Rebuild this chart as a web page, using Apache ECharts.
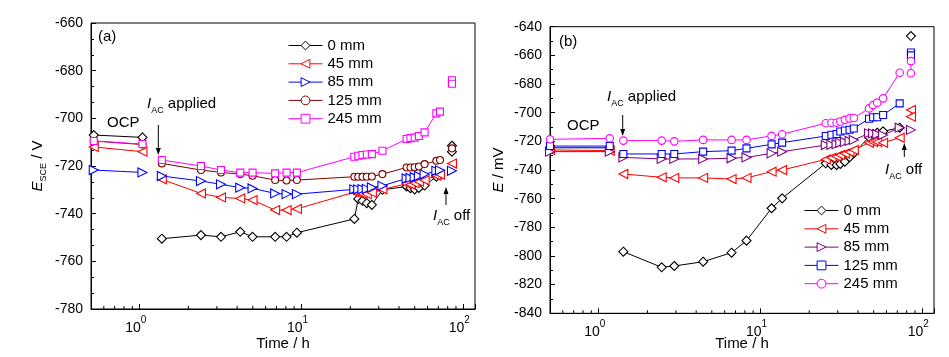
<!DOCTYPE html>
<html>
<head>
<meta charset="utf-8">
<script src="https://cdn.jsdelivr.net/npm/echarts@6/dist/echarts.min.js"></script>
<style>
html,body{margin:0;padding:0;background:#fff;}
#c{width:949px;height:357px;}
</style>
</head>
<body>
<div id="c"></div>
<script>
// ---------- Panel (a): E_SCE / V ----------
const seriesNames = ['0 mm', '45 mm', '85 mm', '125 mm', '245 mm'];
const ocpTimeA = [0.52, 1.04];
const timeA = [1.37, 2.39, 3.18, 4.18, 4.98, 6.87, 8.08, 9.36, 21.2, 22.4, 23.8, 25.3, 27.2, 31.6, 44.6, 47.1, 50.0, 53.1, 57.6, 68.1, 71.7];
const offTimeA = [85, 85];
const ocpA0 = [-707, -708];
const ocpA45 = [-712, -714];
const ocpA85 = [-721.7, -722.7];
const ocpA125 = [-709.5, -711];
const ocpA245 = [-709.5, -710.8];
const a0 = [-750.5, -749, -749.7, -747.6, -749.7, -749.7, -749.7, -748, -742.2, -733.8, -734.6, -735.6, -736.3, -730, -728.6, -729.3, -729.8, -729.2, -728.2, -724.5, -723.8];
const a45 = [-725.6, -731.5, -733.2, -733.6, -734.3, -738.5, -738.5, -738, -731, -731.3, -731.6, -731.8, -731.2, -729.8, -727.5, -727.8, -727.2, -726.6, -726, -724, -723.6];
const a85 = [-724.2, -726.3, -727.7, -729.1, -729.4, -731.5, -731.8, -731.8, -729.8, -729.8, -729.7, -729.6, -729, -728.3, -725.2, -725, -724.7, -724.2, -723.5, -722, -721.8];
const a125 = [-718.9, -721.7, -722.7, -723.4, -724.1, -725.9, -726.1, -725.9, -724.5, -724.5, -724.5, -724.5, -724.4, -723.4, -720.6, -720.6, -720.5, -720.2, -719.2, -717.8, -717.5];
const a245 = [-717.5, -720, -721.7, -722.8, -722.8, -723.1, -722.8, -722.8, -716.1, -715.7, -715.4, -715.2, -715, -713.6, -708.7, -708.3, -708.1, -707.4, -705.9, -697.9, -697.2];
const offA0 = [-711.5, -714];
const offA45 = [-719];
const offA85 = [-722];
const offA125 = [-712.6];
const offA245 = [-684, -685.5];

// ---------- Panel (b): E / mV ----------
const ocpTimeB = [0.5, 1.17];
const timeB = [1.42, 2.45, 2.93, 4.42, 6.62, 8.19, 11.7, 13.6, 25.3, 27.4, 29.5, 31.1, 33.2, 35.5, 37.7, 46.8, 49.6, 52.6, 57.2, 72.4];
const offTimeB = [85, 85];
const ocpB0 = [-724.5, -724.5];
const ocpB45 = [-726, -726.5];
const ocpB85 = [-727.2, -727.2];
const ocpB125 = [-723.3, -723.3];
const ocpB245 = [-718.6, -717.9];
const b0 = [-797, -807.9, -807, -804, -797.7, -789.3, -766.7, -759.8, -735.3, -736.5, -736.5, -735.8, -734.2, -731.1, -728.3, -717, -715, -714, -713, -710.5];
const b45 = [-742.8, -745.1, -745.5, -745.5, -746.3, -745.5, -741.2, -740, -732.6, -731.5, -730.5, -729.5, -728.5, -727.5, -726, -721, -720.5, -720.5, -721, -717.5];
const b85 = [-731.2, -732.3, -732.3, -732.3, -731.8, -731.2, -728.4, -727.2, -722.6, -722.4, -722, -721, -720.4, -719.7, -719, -714.4, -714.5, -715, -715.6, -710.5];
const b125 = [-728.8, -728.8, -728.8, -727.2, -726.5, -724.9, -722.1, -720.9, -716.3, -715.4, -714.9, -713.1, -712.4, -711.9, -711, -704.2, -703.2, -703.2, -701.6, -693.5];
const b245 = [-719.5, -719.5, -720, -719, -719, -719, -716.2, -715, -707.4, -707, -707, -706.2, -705, -704, -703.7, -697, -694.7, -693, -690, -672.1];
const offB0 = [-646.5];
const offB45 = [-698.1, -702.8];
const offB85 = [-712];
const offB125 = [-658, -660];
const offB245 = [-664, -672.5];

// minor tick values on log time axis
const minorTicks = [0.6, 0.7, 0.8, 0.9, 2, 3, 4, 5, 6, 7, 8, 9, 20, 30, 40, 50, 60, 70, 80, 90];

const FONT = 'Liberation Sans, Arial, sans-serif';

function build(ocpT, ocpV, t, v, offT, offV) {
  const d = [];
  ocpV.forEach((y, i) => d.push([ocpT[i], y]));
  d.push(['-', '-']);
  v.forEach((y, i) => d.push([t[i], y]));
  d.push(['-', '-']);
  offV.forEach((y, i) => d.push([offT[i], y]));
  return d;
}

const stylesA = [
  {c: '#000000', sym: 'diamond', rot: 0, size: 9},
  {c: '#ff0000', sym: 'triangle', rot: 90, size: 9},
  {c: '#0000ff', sym: 'triangle', rot: -90, size: 9},
  {c: '#800000', sym: 'circle', rot: 0, size: 7},
  {c: '#ff00ff', sym: 'rect', rot: 0, size: 7}
];
const stylesB = [
  {c: '#000000', sym: 'diamond', rot: 0, size: 9},
  {c: '#ff0000', sym: 'triangle', rot: 90, size: 9},
  {c: '#800080', sym: 'triangle', rot: -90, size: 9},
  {c: '#0000ff', sym: 'rect', rot: 0, size: 7},
  {c: '#ff00ff', sym: 'circle', rot: 0, size: 7.5}
];

const dataA = [
  build(ocpTimeA, ocpA0, timeA, a0, offTimeA, offA0),
  build(ocpTimeA, ocpA45, timeA, a45, offTimeA, offA45),
  build(ocpTimeA, ocpA85, timeA, a85, offTimeA, offA85),
  build(ocpTimeA, ocpA125, timeA, a125, offTimeA, offA125),
  build(ocpTimeA, ocpA245, timeA, a245, offTimeA, offA245)
];
const dataB = [
  build(ocpTimeB, ocpB0, timeB, b0, offTimeB, offB0),
  build(ocpTimeB, ocpB45, timeB, b45, offTimeB, offB45),
  build(ocpTimeB, ocpB85, timeB, b85, offTimeB, offB85),
  build(ocpTimeB, ocpB125, timeB, b125, offTimeB, offB125),
  build(ocpTimeB, ocpB245, timeB, b245, offTimeB, offB245)
];
const namesB = seriesNames.map(n => n + ' ');

function mkSeries(names, styles, data, idx) {
  return names.map((n, i) => ({
    name: n, type: 'line', xAxisIndex: idx, yAxisIndex: idx,
    data: data[i], connectNulls: false,
    symbol: styles[i].sym, symbolRotate: styles[i].rot, symbolSize: styles[i].size,
    showAllSymbol: true,
    lineStyle: {color: styles[i].c, width: 1},
    itemStyle: {color: '#fff', borderColor: styles[i].c, borderWidth: 1.1},
    emphasis: {disabled: true}, animation: false, z: 3 + i
  }));
}

function minorSeries(idx) {
  return {
    type: 'custom', xAxisIndex: idx, yAxisIndex: idx, silent: true, animation: false,
    data: minorTicks.map(v => [v]), z: 10,
    renderItem: function (params, api) {
      const cs = params.coordSys;
      const x = api.coord([api.value(0), -700])[0];
      const yb = cs.y + cs.height;
      return {type: 'line', shape: {x1: x, y1: yb, x2: x, y2: yb - 3},
              style: {stroke: '#000', lineWidth: 1}};
    }
  };
}

const xLabel = {
  color: '#000', fontFamily: FONT, fontWeight: 'normal', margin: 6,
  formatter: function (v) {
    const l = Math.log10(v);
    if (Math.abs(l - Math.round(l)) > 1e-6) return '';
    return '{b|10}{s|' + Math.round(l) + '}';
  },
  rich: {
    b: {fontSize: 14, fontFamily: FONT, fontWeight: 'normal', color: '#000', lineHeight: 20, verticalAlign: 'bottom'},
    s: {fontSize: 10, fontFamily: FONT, fontWeight: 'normal', color: '#000', lineHeight: 12, verticalAlign: 'top', padding: [0, 8, 0, 0]}
  }
};

function xAxis(idx, gap) {
  return {
    type: 'log', gridIndex: idx, logBase: 10, min: 0.5, max: 118,
    name: 'Time / h', nameLocation: 'middle', nameGap: gap, nameMoveOverlap: false,
    nameTextStyle: {color: '#000', fontSize: 15, fontFamily: FONT, fontWeight: 'normal'},
    axisLine: {show: true, lineStyle: {color: '#000', width: 1}},
    axisTick: {show: true, inside: true, length: 5, lineStyle: {color: '#000'}},
    minorTick: {show: false},
    splitLine: {show: false}, minorSplitLine: {show: false},
    axisLabel: xLabel
  };
}

function yAxis(idx, min, max, minorSplit, name, gap) {
  return {
    type: 'value', gridIndex: idx, min: min, max: max, interval: 20,
    name: name, nameLocation: 'middle', nameGap: gap, nameRotate: 90, nameMoveOverlap: false,
    nameTextStyle: {
      color: '#000', fontSize: 15, fontFamily: FONT, fontWeight: 'normal',
      rich: {
        i: {fontStyle: 'italic', fontWeight: 'normal', fontSize: 15, fontFamily: FONT, color: '#000', lineHeight: 18, verticalAlign: 'bottom'},
        sub: {fontSize: 9, fontWeight: 'normal', fontFamily: FONT, color: '#000', lineHeight: 18, verticalAlign: 'bottom', padding: [0, 0, -3, 0]},
        n: {fontSize: 15, fontWeight: 'normal', fontFamily: FONT, color: '#000', lineHeight: 18, verticalAlign: 'bottom'}
      }
    },
    axisLine: {show: true, lineStyle: {color: '#000', width: 1}},
    axisTick: {show: true, inside: true, length: 5, lineStyle: {color: '#000'}},
    minorTick: {show: true, splitNumber: minorSplit, length: 3, lineStyle: {color: '#000'}},
    splitLine: {show: false}, minorSplitLine: {show: false},
    axisLabel: {color: '#000', fontSize: 14, fontFamily: FONT, fontWeight: 'normal', margin: 8}
  };
}

function legend(names, left, top) {
  return {
    data: names, orient: 'vertical', left: left, top: top, padding: 0,
    itemWidth: 34, itemHeight: 11, itemGap: 0.3, selectedMode: false,
    lineStyle: {width: 1}, itemStyle: {borderWidth: 1},
    textStyle: {color: '#000', fontSize: 15, fontFamily: FONT, fontWeight: 'normal', lineHeight: 18}
  };
}

function rt(x, y, parts) {
  return {type: 'text', left: x, top: y, z: 100,
    style: {text: parts, fill: '#000', fontSize: 15, fontFamily: FONT, fontWeight: 'normal',
      rich: {
        i: {fontStyle: 'italic', fontWeight: 'normal', fontSize: 15, fontFamily: FONT, fill: '#000', lineHeight: 18, verticalAlign: 'bottom'},
        sub: {fontSize: 9, fontWeight: 'normal', fontFamily: FONT, fill: '#000', lineHeight: 18, verticalAlign: 'bottom', padding: [0, 0, -4, 0]},
        n: {fontSize: 15, fontWeight: 'normal', fontFamily: FONT, fill: '#000', lineHeight: 18, verticalAlign: 'bottom'}
      }}};
}
function arrow(x, y1, y2) { // tail y1 -> head y2
  const dir = y2 > y1 ? 1 : -1;
  return [
    {type: 'line', z: 100, shape: {x1: x, y1: y1, x2: x, y2: y2 - dir * 5}, style: {stroke: '#000', lineWidth: 1}},
    {type: 'polygon', z: 100, shape: {points: [[x - 2.5, y2 - dir * 7], [x + 2.5, y2 - dir * 7], [x, y2]]}, style: {fill: '#000'}}
  ];
}

const chart = echarts.init(document.getElementById('c'), null, {renderer: 'canvas'});
chart.setOption({
  backgroundColor: '#fff',
  animation: false,
  textStyle: {fontFamily: FONT, fontWeight: 'normal'},
  grid: [
    {left: 91, top: 23, width: 384, height: 286, show: true, borderColor: '#000', borderWidth: 1, backgroundColor: 'transparent', containLabel: false, outerBoundsMode: 'none'},
    {left: 550, top: 26.7, width: 384, height: 286.6, show: true, borderColor: '#000', borderWidth: 1, backgroundColor: 'transparent', containLabel: false, outerBoundsMode: 'none'}
  ],
  xAxis: [xAxis(0, 27), xAxis(1, 23)],
  yAxis: [
    yAxis(0, -780, -660, 3, '{i|E}{sub|SCE}{n| / V}', 46),
    yAxis(1, -840, -640, 2, '{i|E}{n| / mV}', 44)
  ],
  legend: [legend(seriesNames, 288, 36.5), legend(namesB, 804, 201.5)],
  series: [].concat(
    mkSeries(seriesNames, stylesA, dataA, 0),
    mkSeries(namesB, stylesB, dataB, 1),
    [minorSeries(0), minorSeries(1)]
  ),
  graphic: [].concat(
    [rt(98, 29, '{n|(a)}'), rt(107, 115, '{n|OCP}'), rt(147, 96, '{i|I}{sub|AC}{n| applied}'), rt(433, 208, '{i|I}{sub|AC}{n| off}'),
     rt(559, 34, '{n|(b)}'), rt(567, 118, '{n|OCP}'), rt(607, 89, '{i|I}{sub|AC}{n| applied}'), rt(885, 162, '{i|I}{sub|AC}{n| off}')],
    arrow(158.3, 125, 155), arrow(446, 205, 187),
    arrow(622.7, 115, 136), arrow(904.3, 157, 143)
  )
});
</script>
</body>
</html>
